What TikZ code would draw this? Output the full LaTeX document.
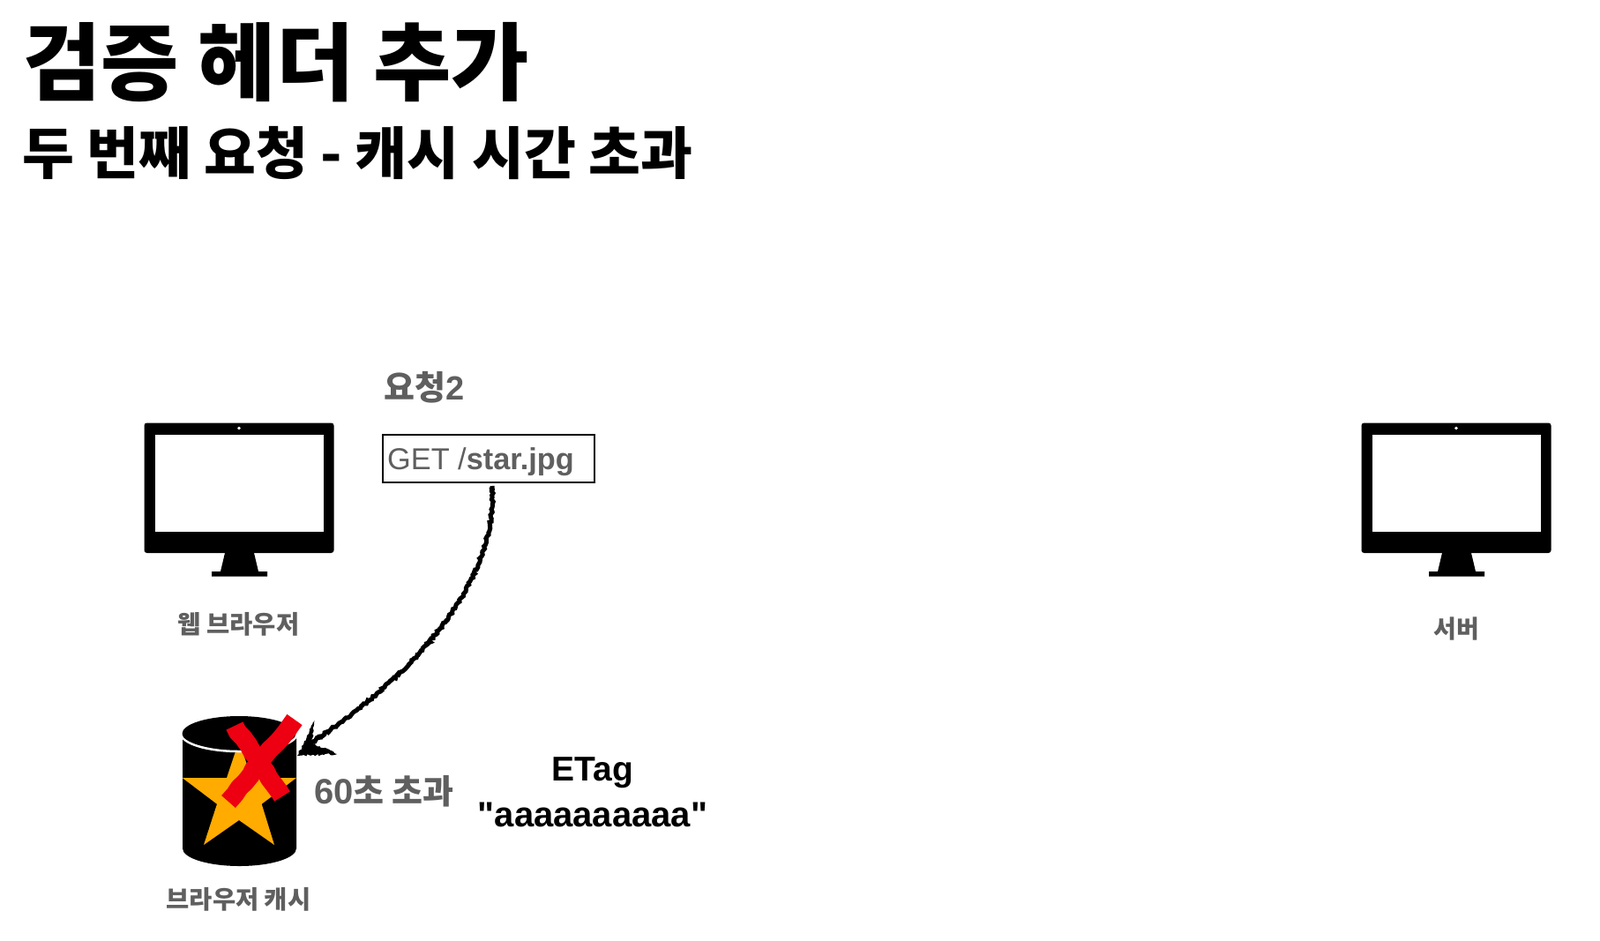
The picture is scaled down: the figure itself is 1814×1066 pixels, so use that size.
\documentclass[tikz,border=0pt]{standalone}
\usepackage{fontspec}
\setmainfont{Liberation Sans}
\newfontfamily\lat{Liberation Sans}
\newfontfamily\kr{Noto Sans CJK KR}
\usetikzlibrary{decorations.pathmorphing}
\definecolor{txtgrey}{HTML}{5F5F5F}
\definecolor{staror}{HTML}{FFAB00}
\definecolor{xred}{HTML}{EC0011}
\newcommand{\fs}[1]{\fontsize{#1}{#1}\selectfont}
\tikzset{
  x=1pt,y=-1pt,
  greylabel/.style={inner sep=0pt,text=txtgrey,font=\bfseries},
  blacklabel/.style={inner sep=0pt,text=black,font=\bfseries},
  chalk/.style={decorate,decoration={random steps,segment length=2.2pt,amplitude=1.2pt}},
  redstroke/.style={draw=xred,line width=21pt,line join=round,decorate,decoration={random steps,segment length=9pt,amplitude=1.2pt}},
  monitor/.pic={
    \fill[black,rounded corners=3pt] (163.5,479.5) rectangle (378.5,627);
    \fill[white] (175.5,493) rectangle (367,603);
    \fill[white] (271,485.5) circle (1.8);
    \fill[black] (255,627) -- (288,627) -- (293,648) -- (303,648) -- (303,653.5) -- (240,653.5) -- (240,648) -- (250,648) -- cycle;
  }
}
\begin{document}
\begin{tikzpicture}
\useasboundingbox (0,0) rectangle (1814,1066);
\fill[white] (0,0) rectangle (1814,1066);
% titles
\node[blacklabel,anchor=west] (title) at (26,71) {\kr\fs{96}검증 헤더 추가};
\node[blacklabel,anchor=west] (subtitle) at (25,174) {\kr\fs{64}두 번째 요청 - 캐시 시간 초과};
% monitors
\pic (browser) at (0,0) {monitor};
\pic (server) at (1380,0) {monitor};
\node[greylabel] (browserlabel) at (270.5,708) {\kr\fs{28.5}웹 브라우저};
\node[greylabel] (serverlabel) at (1651,713) {\kr\fs{28}서버};
% request
\node[greylabel,anchor=west] (reqlabel) at (435,439) {\fs{38}{\kr 요청}2};
\node[draw=black,line width=2pt,minimum width=240pt,minimum height=54pt,inner sep=0pt] (req) at (553.5,519.5) {};
\node[anchor=west,inner sep=0pt,text=txtgrey] (reqtext) at (439,524) {\fs{34.3}GET /\textbf{star.jpg}};
% cylinder
\coordinate (cyl) at (271,897);
\fill[black] (207,832) -- (207,962) arc[start angle=180,end angle=360,x radius=64.5pt,y radius=20pt] -- (336,832) -- cycle;
\fill[staror] (271,840) -- (285,882) -- (336,882) -- (296.7,911.7) -- (311,958) -- (271,930) -- (231,958) -- (246,911.7) -- (206.7,882) -- (257,882) -- cycle;
\fill[black,draw=white,line width=2.5pt] (271,832) ellipse[x radius=65.5pt,y radius=20pt];
\fill[white] (200,805) rectangle (205.5,860);
\fill[white] (336.5,805) rectangle (342,860);
\fill[black] (271,812) arc[start angle=90,end angle=180,x radius=64.5pt,y radius=20pt] arc[start angle=180,end angle=270,x radius=64.5pt,y radius=17.5pt] -- cycle;
\fill[black] (271,812) arc[start angle=90,end angle=0,x radius=64.5pt,y radius=20pt] arc[start angle=0,end angle=-90,x radius=64.5pt,y radius=17.5pt] -- cycle;
% red cross
\path[redstroke] (266,823) -- (320,903);
\path[redstroke] (334,816) -- (259,909);
\node[greylabel] (cyllabel) at (270.5,1020) {\kr\fs{28.5}브라우저 캐시};
\node[greylabel,anchor=west] (timeout) at (356,897) {\fs{40}60{\kr\fs{38}초 초과}};
\node[blacklabel] (etag) at (672,876) {\fs{39}ETag};
\node[blacklabel] (etagval) at (672,924) {\lat\fs{40}"aaaaaaaaaa"};
% sketchy arrow
\coordinate (arrowstart) at (558,551);
\coordinate (tip) at (353,842);
\draw[black,line width=5pt,chalk] (arrowstart) .. controls (564,640) and (500,745) .. (tip);
\fill[black,chalk] (337,857) -- (357,817) -- (353,842) -- (382,855) -- cycle;
\end{tikzpicture}
\end{document}
